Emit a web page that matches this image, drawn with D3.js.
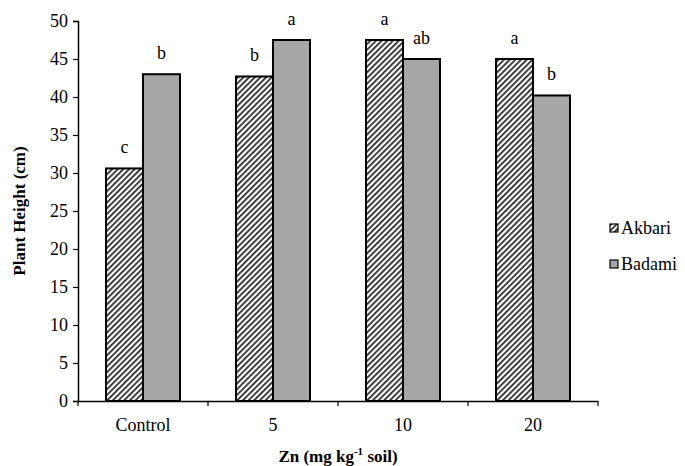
<!DOCTYPE html>
<html>
<head>
<meta charset="utf-8">
<script src="https://cdn.jsdelivr.net/npm/d3@7"></script>
<style>
  body { margin: 0; background: #fff; }
  svg text { font-family: "Liberation Serif"; }
</style>
</head>
<body>
<div id="chart"></div>
<script>
// data
const categories = ["Control", "5", "10", "20"];
const seriesNames = ["Akbari", "Badami"];
const akbari = [30.6, 42.7, 47.5, 45.0];
const badami = [43.0, 47.5, 45.0, 40.2];
const akbariLetters = ["c", "b", "a", "a"];
const badamiLetters = ["b", "a", "ab", "b"];
const yTicks = [0, 5, 10, 15, 20, 25, 30, 35, 40, 45, 50];

const FONT = "Liberation Serif";

const width = 685, height = 466;
const margin = {left: 78, right: 87, top: 21, bottom: 65};
const vis_width = width - margin.left - margin.right;
const vis_height = height - margin.top - margin.bottom;

const svg = d3.select("#chart").append("svg")
    .attr("width", width).attr("height", height);

// hatch pattern for Akbari
const defs = svg.append("defs");
const pat = defs.append("pattern")
    .attr("id", "hatch")
    .attr("patternUnits", "userSpaceOnUse")
    .attr("width", 4).attr("height", 4)
    .attr("patternTransform", "rotate(45)");
pat.append("rect").attr("width", 4).attr("height", 4).attr("fill", "#fff");
pat.append("rect").attr("x", 0).attr("width", 1.7).attr("height", 4).attr("fill", "#222");

const fills = ["url(#hatch)", "#a6a6a6"];

const g = svg.append("g").attr("transform", `translate(${margin.left},${margin.top})`);

const X = d3.scaleBand().domain(categories).range([0, vis_width]);
// bars sit centered in each band, each ~37px wide
const barW = 37;
const inner = d3.scaleBand().domain(seriesNames)
    .range([X.bandwidth() / 2 - barW, X.bandwidth() / 2 + barW]);
const Y = d3.scaleLinear().domain([0, 50]).range([vis_height, 0]);

const rows = categories.map((c, i) => ({cat: c, vals: [
  {s: "Akbari", v: akbari[i], l: akbariLetters[i]},
  {s: "Badami", v: badami[i], l: badamiLetters[i]}
]}));

const grp = g.selectAll(".grp").data(rows).enter().append("g")
    .attr("transform", d => `translate(${X(d.cat)},0)`);

grp.selectAll("rect").data(d => d.vals).enter().append("rect")
    .attr("x", d => inner(d.s))
    .attr("y", d => Y(d.v))
    .attr("width", inner.bandwidth())
    .attr("height", d => vis_height - Y(d.v))
    .attr("fill", (d, i) => fills[i])
    .attr("stroke", "#000")
    .attr("stroke-width", 2);

grp.selectAll(".lab").data(d => d.vals).enter().append("text")
    .attr("x", d => inner(d.s) + inner.bandwidth() / 2)
    .attr("y", d => Y(d.v) - 15)
    .attr("text-anchor", "middle")
    .style("font-family", FONT)
    .style("font-size", "18px")
    .text(d => d.l);

// y axis
const yAxis = g.append("g")
    .call(d3.axisLeft(Y).tickValues(yTicks).tickSize(5).tickPadding(5))
    .attr("font-family", FONT);
yAxis.selectAll("text").style("font-family", FONT).style("font-size", "18px").attr("fill", "#000");
yAxis.select(".domain").attr("stroke", "#000").attr("stroke-width", 1.5);
yAxis.selectAll(".tick line").attr("stroke", "#000").attr("stroke-width", 1.2);

// x axis, ticks at category boundaries
const xAxis = g.append("g").attr("transform", `translate(0,${vis_height})`)
    .call(d3.axisBottom(X).tickSize(0).tickPadding(17))
    .attr("font-family", FONT);
xAxis.selectAll("text").style("font-family", FONT).style("font-size", "18px").attr("fill", "#000");
xAxis.select(".domain").attr("stroke", "#000").attr("stroke-width", 1.5);
const bounds = [0].concat(categories.map(c => X(c) + X.bandwidth()));
xAxis.selectAll(".bound").data(bounds).enter().append("line")
    .attr("x1", d => d).attr("x2", d => d)
    .attr("y1", 0).attr("y2", 5)
    .attr("stroke", "#000").attr("stroke-width", 1.2);

// axis titles
svg.append("text")
    .attr("transform", `translate(25,${margin.top + vis_height / 2}) rotate(-90)`)
    .attr("text-anchor", "middle")
    .style("font-family", FONT)
    .style("font-size", "17px").style("font-weight", "bold")
    .text("Plant Height (cm)");

const xt = svg.append("text")
    .attr("x", margin.left + vis_width / 2)
    .attr("y", 462)
    .attr("text-anchor", "middle")
    .style("font-family", FONT)
    .style("font-size", "17px").style("font-weight", "bold");
xt.append("tspan").text("Zn (mg kg");
xt.append("tspan").attr("dy", -7).style("font-size", "11px").text("-1");
xt.append("tspan").attr("dy", 7).text(" soil)");

// legend
const leg = svg.append("g").attr("transform", "translate(610,224)");
const li = leg.selectAll("g").data(seriesNames).enter().append("g")
    .attr("transform", (d, i) => `translate(0,${i * 36})`);
li.append("rect").attr("width", 8).attr("height", 8)
    .attr("fill", (d, i) => fills[i]).attr("stroke", "#000").attr("stroke-width", 1.2);
li.append("text").attr("x", 11).attr("y", 10)
    .style("font-family", FONT)
    .style("font-size", "18px").text(d => d);
</script>
</body>
</html>
